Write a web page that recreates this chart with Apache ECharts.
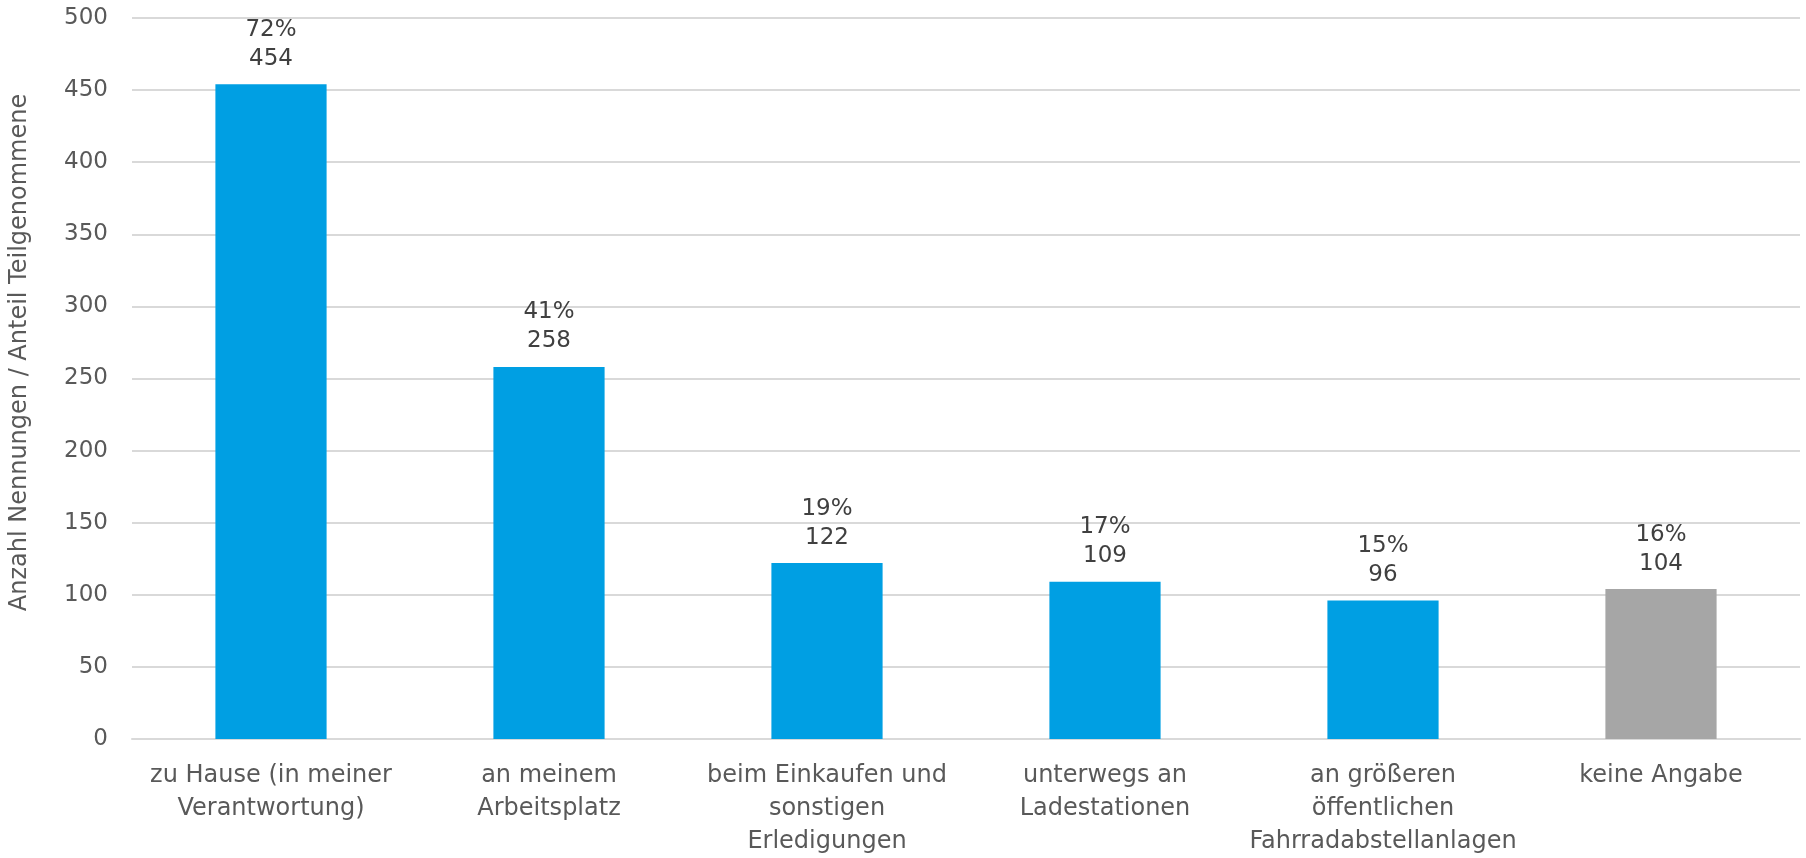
<!DOCTYPE html>
<html>
<head>
<meta charset="utf-8">
<script src="https://cdn.jsdelivr.net/npm/echarts@6/dist/echarts.min.js"></script>
<style>html,body{margin:0;padding:0;background:#fff}#c{width:1806px;height:858px}</style>
</head>
<body>
<div id="c"></div>
<script>
const categories = ['zu Hause (in meiner\nVerantwortung)', 'an meinem\nArbeitsplatz', 'beim Einkaufen und\nsonstigen\nErledigungen', 'unterwegs an\nLadestationen', 'an größeren\nöffentlichen\nFahrradabstellanlagen', 'keine Angabe'];
const counts = [454, 258, 122, 109, 96, 104];
const percents = [72, 41, 19, 17, 15, 16];
const barColors = ['#009FE3', '#009FE3', '#009FE3', '#009FE3', '#009FE3', '#A6A6A6'];
const yTicks = [0, 50, 100, 150, 200, 250, 300, 350, 400, 450, 500];
const yAxisName = 'Anzahl Nennungen / Anteil Teilgenommene';

const FONT = 'DejaVu Sans';
const chart = echarts.init(document.getElementById('c'), null, {renderer: 'canvas'});
chart.setOption({
  animation: false,
  grid: {left: 129, right: 6, top: 18, bottom: 115},
  xAxis: {
    type: 'category',
    data: categories,
    axisLine: {show: true, lineStyle: {color: '#D9D9D9', width: 2}},
    axisTick: {show: false},
    axisLabel: {
      interval: 0, color: '#595959', fontFamily: FONT, fontSize: 24,
      lineHeight: 33, margin: 20
    }
  },
  yAxis: {
    type: 'value',
    min: yTicks[0], max: yTicks[yTicks.length - 1], interval: 50,
    name: yAxisName,
    nameLocation: 'middle',
    nameGap: 100,
    nameTextStyle: {color: '#595959', fontFamily: FONT, fontSize: 24, padding: [0, 0, 0, 52]},
    axisLine: {show: false},
    axisTick: {show: false},
    splitLine: {lineStyle: {color: '#D9D9D9', width: 2}},
    axisLabel: {color: '#595959', fontFamily: FONT, fontSize: 23, margin: 24}
  },
  series: [{
    type: 'bar',
    barWidth: '40%',
    data: counts.map((v, i) => ({value: v, itemStyle: {color: barColors[i]}})),
    label: {
      show: true, position: 'top', distance: 11,
      color: '#404040', fontFamily: FONT, fontSize: 23, lineHeight: 29,
      formatter: p => percents[p.dataIndex] + '%\n' + p.value
    }
  }]
});
</script>
</body>
</html>
